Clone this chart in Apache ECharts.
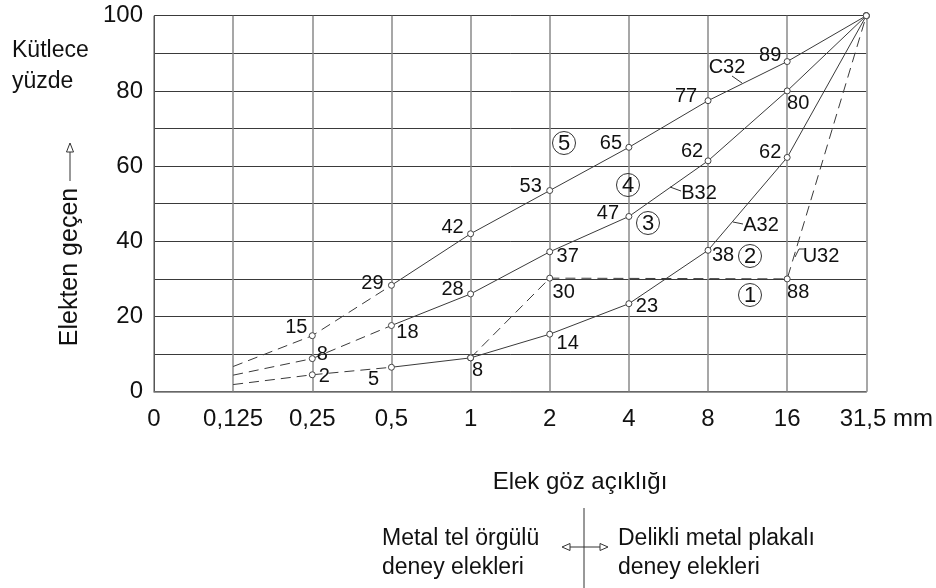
<!DOCTYPE html>
<html><head><meta charset="utf-8">
<script src="https://cdn.jsdelivr.net/npm/echarts@6/dist/echarts.min.js"></script>
<style>html,body{margin:0;padding:0;background:#fff}#c{width:936px;height:588px}</style>
</head><body><div id="c"></div>
<script>
// ---- data ----
const sieves = ['0', '0,125', '0,25', '0,5', '1', '2', '4', '8', '16', '31,5'];
const yTicks = [0, 20, 40, 60, 80, 100];
const C32 = [null, 6.7, 14.9, 28.3, 42, 53.5, 65, 77.4, 87.8, 100];
const B32 = [null, 4.4, 8.8, 17.6, 26, 37.2, 46.6, 61.4, 80, 100];
const A32 = [null, 1.9, 4.5, 6.5, 9, 15.3, 23.4, 37.6, 62.3, 100];
const U32 = [null, null, null, null, 9, 30.2, null, null, 30, 100];
const C32_labels = [null, null, '15', '29', '42', '53', '65', '77', '89', null];
const B32_labels = [null, null, '8', '18', '28', '37', '47', '62', '80', null];
const A32_labels = [null, null, '2', '5', '8', '14', '23', '38', '62', null];
const U32_labels = [null, null, null, null, null, '30', null, null, '88', null];
const curveNames = ['C32', 'B32', 'A32', 'U32'];
const zoneNames = ['5', '4', '3', '2', '1'];

// ---- styling ----
const SANS = '"Liberation Sans",Arial,sans-serif';
const INK = '#111';
const LINE = '#3a3a3a';
const labelOffsets = {
  C32: {2: [-16, -8], 3: [-19, -2], 4: [-18, -6], 5: [-19, -4], 6: [-18, -4], 7: [-22, -4], 8: [-17, -6]},
  B32: {2: [10, -4], 3: [16, 7], 4: [-18, -4], 5: [18, 5], 6: [-21, -3], 7: [-16, -9], 8: [11, 13]},
  A32: {2: [12, 2], 3: [-18, 12], 4: [7, 13], 5: [18, 9], 6: [18, 3], 7: [15, 5], 8: [-17, -5]},
  U32: {5: [14, 14], 8: [11, 14]}
};

function points(vals, labels, offs) {
  const out = [];
  vals.forEach((v, i) => {
    if (v === null || i < 2) return;
    const item = {value: [i, v]};
    if (labels[i] !== null) {
      item.label = {show: true, formatter: labels[i], position: 'inside',
        offset: offs[i] || [0, 0], align: 'center', verticalAlign: 'middle',
        color: INK, opacity: 1, textBorderWidth: 0, fontFamily: SANS, fontSize: 20};
    }
    out.push(item);
  });
  return out;
}
function lineSeries(data, dashed, connect) {
  return {type: 'line', data: data, symbol: 'none', showSymbol: false, silent: true,
    connectNulls: !!connect, z: 3,
    lineStyle: {color: LINE, width: 1, type: dashed ? [10, 6] : 'solid'}};
}
function scatterSeries(data) {
  return {type: 'scatter', data: data, symbol: 'circle', symbolSize: 6, z: 5, silent: true,
    itemStyle: {color: '#fff', borderColor: '#444', borderWidth: 1, opacity: 1},
    label: {color: INK, opacity: 1, textBorderWidth: 0, fontFamily: SANS, fontSize: 20}};
}

const curves = {C32: [C32, C32_labels], B32: [B32, B32_labels], A32: [A32, A32_labels]};
const series = [];
Object.keys(curves).forEach(k => {
  const vals = curves[k][0];
  series.push(lineSeries(vals.map((v, i) => i <= 3 ? v : null), true));
  series.push(lineSeries(vals.map((v, i) => i >= 3 ? v : null), false));
});
series.push(lineSeries(U32, true, true));
Object.keys(curves).forEach(k => series.push(scatterSeries(points(curves[k][0], curves[k][1], labelOffsets[k]))));
series.push(scatterSeries(points(U32, U32_labels, labelOffsets.U32)));

// ---- annotations ----
const g = [];
function txt(x, y, s, opts) {
  g.push(Object.assign({type: 'text', x: x, y: y, z: 20, silent: true,
    style: Object.assign({text: s, fill: INK, font: '22px ' + SANS, align: 'center', verticalAlign: 'middle'}, opts || {})}));
}
function seg(pts, w) {
  g.push({type: 'polyline', z: 20, silent: true, shape: {points: pts},
    style: {stroke: '#333', lineWidth: w || 1, fill: null}});
}
function tri(pts) {
  g.push({type: 'polygon', z: 21, silent: true, shape: {points: pts},
    style: {stroke: '#333', lineWidth: 1, fill: '#fff'}});
}
// left titles
g.push({type: 'text', x: 12, y: 35, z: 20, silent: true,
  style: {text: 'Kütlece\nyüzde', fill: INK, font: '23px ' + SANS, lineHeight: 31, align: 'left', verticalAlign: 'top'}});
g.push({type: 'text', x: 70, y: 267, rotation: Math.PI / 2, z: 20, silent: true,
  style: {text: 'Elekten geçen', fill: INK, font: '25px ' + SANS, align: 'center', verticalAlign: 'middle'}});
seg([[70, 181], [70, 152]]);
tri([[70, 143], [66.5, 152], [73.5, 152]]);
// bottom titles
txt(580, 482, 'Elek göz açıklığı', {font: '24px ' + SANS});
g.push({type: 'text', x: 382, y: 553.5, z: 20, silent: true,
  style: {text: 'Metal tel örgülü\ndeney elekleri', fill: INK, font: '23px ' + SANS, lineHeight: 29, align: 'left', verticalAlign: 'middle'}});
g.push({type: 'text', x: 618, y: 553.5, z: 20, silent: true,
  style: {text: 'Delikli metal plakalı\ndeney elekleri', fill: INK, font: '23px ' + SANS, lineHeight: 29, align: 'left', verticalAlign: 'middle'}});
seg([[584, 508], [584, 588]]);
seg([[570, 547], [600, 547]]);
tri([[562, 547], [570, 543.5], [570, 550.5]]);
tri([[608, 547], [600, 543.5], [600, 550.5]]);
// zone numbers (circled)
const zonePos = [[564, 143], [628, 185], [648, 223], [750, 256], [750, 295]];
zoneNames.forEach((n, i) => {
  g.push({type: 'circle', z: 20, silent: true, shape: {cx: zonePos[i][0], cy: zonePos[i][1], r: 11.5},
    style: {stroke: '#333', lineWidth: 1, fill: null}});
  txt(zonePos[i][0], zonePos[i][1] + 1, n, {font: '22px ' + SANS});
});
// curve names with leaders
const namePos = [[727, 67], [699, 193], [761, 225], [821, 256]];
curveNames.forEach((n, i) => txt(namePos[i][0], namePos[i][1], n, {font: '20px ' + SANS}));
seg([[732, 76], [742, 83]]);
seg([[670, 187], [681, 191]]);
seg([[733, 222], [743, 224]]);
seg([[795, 257], [799, 249], [804, 249]]);

const chart = echarts.init(document.getElementById('c'), null, {renderer: 'canvas'});
chart.setOption({
  animation: false,
  backgroundColor: '#fff',
  grid: {left: 154, right: 68.5, top: 15.7, bottom: 196.3, containLabel: false},
  xAxis: {
    type: 'category', data: sieves, boundaryGap: false,
    axisLine: {show: true, lineStyle: {color: '#777', width: 1.5}},
    axisTick: {show: false},
    splitLine: {show: true, lineStyle: {color: '#8a8a8a', width: 1.5}},
    axisLabel: {
      interval: 0, margin: 16, color: INK, fontFamily: SANS, fontSize: 24,
      formatter: (v, i) => i === sieves.length - 1 ? '{m|' + v + ' mm}' : v,
      rich: {m: {fontFamily: SANS, fontSize: 24, color: INK, padding: [0, 0, 0, 40]}}
    }
  },
  yAxis: {
    type: 'value', min: 0, max: 100, interval: 10,
    axisLine: {show: true, lineStyle: {color: '#555', width: 1}},
    axisTick: {show: false},
    splitLine: {show: true, lineStyle: {color: '#3a3a3a', width: 1}},
    axisLabel: {
      margin: 11, color: INK, fontFamily: SANS, fontSize: 24,
      formatter: v => yTicks.indexOf(v) >= 0 ? String(v) : ''
    }
  },
  series: series,
  graphic: g
});
</script></body></html>
